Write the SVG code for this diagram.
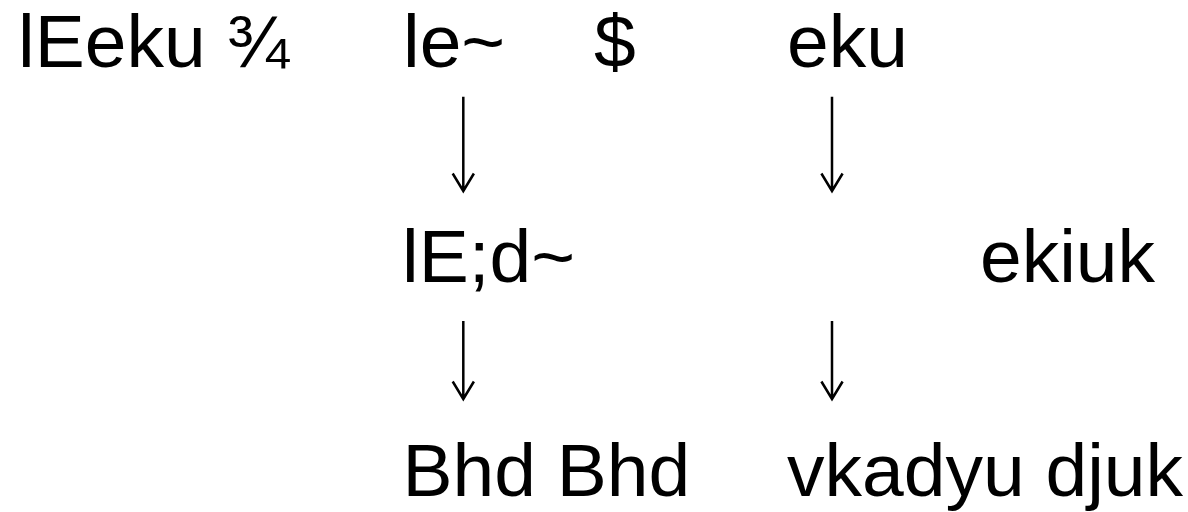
<svg xmlns="http://www.w3.org/2000/svg" width="1188" height="512" viewBox="0 0 1188 512">
<style>
text{font-family:"Liberation Sans",Arial,sans-serif;font-size:75px;fill:#000}
.ar{stroke:#000;stroke-width:2.5;fill:none;stroke-linecap:butt}
</style>
<rect width="1188" height="512" fill="#fff"/>
<g id="n-title"><text x="18" y="66.7">lEeku ¾</text></g>
<g id="n-le"><text x="403" y="66.7">le~</text></g>
<g id="n-dollar"><text x="594" y="66.7">$</text></g>
<g id="n-eku"><text x="787" y="66.7">eku</text></g>
<g id="n-lEyd"><text x="402" y="281.7">lE;d~</text></g>
<g id="n-ekiuk"><text x="980" y="281.7">ekiuk</text></g>
<g id="n-bhd"><text x="402.5" y="496">Bhd Bhd</text></g>
<g id="n-vkadyu"><text x="787" y="496">vkadyu djuk</text></g>
<g id="connectors">
<path class="ar" d="M463.3 96.7V191M452.7 173.5L463.3 191L473.9 173.5"/>
<path class="ar" d="M832 96.7V191M821.4 173.5L832 191L842.6 173.5"/>
<path class="ar" d="M463.3 321V399M452.7 381.5L463.3 399L473.9 381.5"/>
<path class="ar" d="M832 321V399M821.4 381.5L832 399L842.6 381.5"/>
</g>
</svg>
